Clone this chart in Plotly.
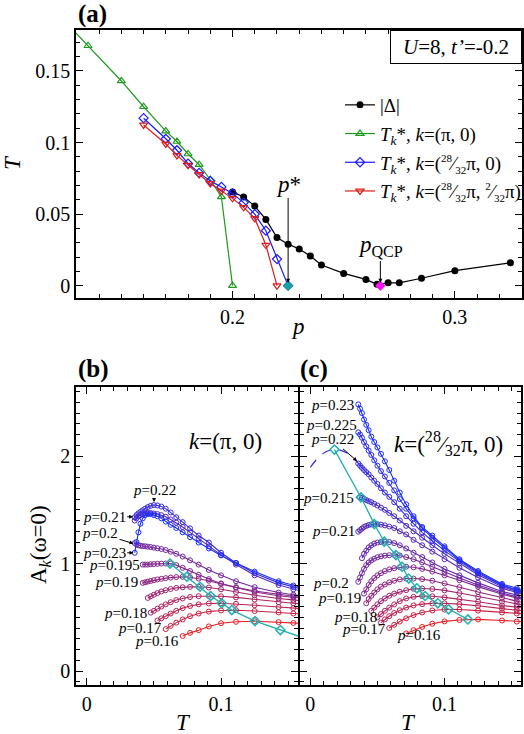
import plotly.graph_objects as go

# ---------------- Panel (a) data ----------------
P_DELTA = [0.2, 0.205, 0.21, 0.215, 0.22, 0.225, 0.23, 0.235, 0.24, 0.25, 0.26, 0.265, 0.27, 0.275, 0.285, 0.3, 0.325]
T_DELTA = [0.0655, 0.062, 0.0556, 0.0463, 0.0337, 0.029, 0.0256, 0.0207, 0.0144, 0.0086, 0.0044, 0.001, 0.002, 0.002, 0.0052, 0.0105, 0.016]
P_K1 = [0.125, 0.135, 0.15, 0.16, 0.17, 0.175, 0.18, 0.185, 0.19, 0.195, 0.2]
T_K1 = [0.184, 0.1676, 0.143, 0.125, 0.108, 0.1007, 0.092, 0.0845, 0.074, 0.062, 0.0]
P_K2 = [0.16, 0.17, 0.175, 0.18, 0.185, 0.19, 0.195, 0.2, 0.205, 0.21, 0.215, 0.22, 0.225]
T_K2 = [0.117, 0.1026, 0.0946, 0.0853, 0.0788, 0.0732, 0.069, 0.0644, 0.058, 0.05, 0.0384, 0.0186, 0.0]
P_K3 = [0.16, 0.17, 0.175, 0.18, 0.185, 0.19, 0.195, 0.2, 0.205, 0.21, 0.215, 0.22]
T_K3 = [0.1123, 0.099, 0.091, 0.0842, 0.0777, 0.0714, 0.0662, 0.061, 0.0547, 0.047, 0.0284, 0.0]
P_STAR = [0.225]
P_QCP = [0.2665]

# ---------------- Panels (b),(c) data ----------------
BETA = [28, 27, 26, 25, 24, 23, 22, 21, 20, 19, 18, 17, 16, 15, 14, 13, 12, 11, 10, 9, 8, 7, 6.5, 6]
T_GRID = [1.0 / b for b in BETA]

# panel (b): k=(pi,0); values start at the first beta listed
B_START = {0.16: 14, 0.17: 17, 0.175: 19, 0.18: 21, 0.185: 22, 0.19: 24, 0.195: 24, 0.2: 28, 0.21: 28, 0.22: 28, 0.23: 28}
B_A = {
    0.16: [0.326, 0.355, 0.38, 0.415, 0.445, 0.458, 0.463, 0.455, 0.447, 0.44],
    0.17: [0.39, 0.42, 0.45, 0.48, 0.51, 0.535, 0.553, 0.563, 0.566, 0.558, 0.545, 0.535, 0.525],
    0.175: [0.47, 0.49, 0.51, 0.535, 0.56, 0.585, 0.605, 0.62, 0.628, 0.63, 0.625, 0.612, 0.595, 0.585, 0.575],
    0.18: [0.543, 0.56, 0.58, 0.6, 0.62, 0.64, 0.66, 0.675, 0.688, 0.696, 0.698, 0.695, 0.685, 0.665, 0.64, 0.63, 0.62],
    0.185: [0.68, 0.695, 0.71, 0.725, 0.74, 0.752, 0.763, 0.773, 0.779, 0.783, 0.784, 0.777, 0.76, 0.735, 0.705, 0.675, 0.66, 0.645],
    0.19: [0.82, 0.825, 0.832, 0.838, 0.845, 0.852, 0.858, 0.864, 0.869, 0.874, 0.877, 0.872, 0.86, 0.84, 0.81, 0.775, 0.735, 0.70, 0.685, 0.67],
    0.195: [0.99, 0.99, 0.99, 0.993, 0.995, 0.997, 0.999, 1.0, 1.0, 0.985, 0.96, 0.93, 0.895, 0.855, 0.815, 0.78, 0.745, 0.71, 0.695, 0.68],
    0.2: [1.19, 1.178, 1.17, 1.165, 1.162, 1.16, 1.157, 1.153, 1.148, 1.142, 1.135, 1.125, 1.11, 1.09, 1.065, 1.03, 0.99, 0.94, 0.89, 0.835, 0.78, 0.73, 0.71, 0.69],
    0.21: [1.40, 1.42, 1.44, 1.45, 1.46, 1.465, 1.47, 1.47, 1.465, 1.46, 1.45, 1.435, 1.41, 1.38, 1.34, 1.29, 1.23, 1.16, 1.08, 0.99, 0.89, 0.80, 0.76, 0.72],
    0.22: [1.43, 1.45, 1.467, 1.48, 1.495, 1.51, 1.525, 1.537, 1.544, 1.54, 1.53, 1.51, 1.475, 1.43, 1.385, 1.327, 1.26, 1.195, 1.10, 1.005, 0.91, 0.82, 0.78, 0.74],
    0.23: [1.10, 1.20, 1.29, 1.37, 1.42, 1.45, 1.46, 1.46, 1.45, 1.44, 1.42, 1.39, 1.36, 1.33, 1.29, 1.245, 1.195, 1.14, 1.075, 1.005, 0.925, 0.835, 0.795, 0.755],
}
B_PEAK_T = [0.062, 0.0745, 0.0844, 0.0923, 0.1005, 0.108, 0.1253, 0.1442, 0.168]
B_PEAK_A = [1.0, 0.877, 0.784, 0.698, 0.63, 0.567, 0.465, 0.381, 0.28]

# panel (c): k=(28/32 pi, 0)
C_START = {0.16: 14, 0.17: 17, 0.175: 19, 0.18: 20, 0.185: 22, 0.19: 24, 0.195: 25, 0.2: 28, 0.205: 26, 0.21: 28, 0.215: 27, 0.22: 28, 0.225: 28, 0.23: 28}
C_A = {
    0.16: [0.35, 0.38, 0.41, 0.44, 0.462, 0.475, 0.48, 0.47, 0.46, 0.455],
    0.17: [0.40, 0.43, 0.46, 0.49, 0.52, 0.545, 0.563, 0.572, 0.572, 0.562, 0.545, 0.535, 0.525],
    0.175: [0.45, 0.48, 0.51, 0.54, 0.565, 0.59, 0.61, 0.622, 0.629, 0.63, 0.622, 0.607, 0.58, 0.565, 0.55],
    0.18: [0.50, 0.53, 0.56, 0.59, 0.62, 0.65, 0.675, 0.69, 0.697, 0.695, 0.685, 0.67, 0.645, 0.61, 0.595, 0.575],
    0.185: [0.56, 0.59, 0.62, 0.65, 0.675, 0.70, 0.72, 0.738, 0.752, 0.765, 0.768, 0.763, 0.75, 0.725, 0.69, 0.645, 0.62, 0.595],
    0.19: [0.63, 0.67, 0.70, 0.73, 0.76, 0.785, 0.805, 0.825, 0.84, 0.852, 0.86, 0.86, 0.855, 0.84, 0.815, 0.78, 0.735, 0.68, 0.65, 0.62],
    0.195: [0.72, 0.76, 0.80, 0.835, 0.865, 0.89, 0.91, 0.93, 0.945, 0.957, 0.966, 0.97, 0.965, 0.95, 0.925, 0.89, 0.845, 0.785, 0.715, 0.68, 0.645],
    0.2: [0.83, 0.87, 0.91, 0.95, 0.985, 1.01, 1.03, 1.045, 1.058, 1.067, 1.073, 1.077, 1.079, 1.075, 1.06, 1.04, 1.01, 0.97, 0.92, 0.865, 0.80, 0.725, 0.69, 0.655],
    0.205: [1.05, 1.09, 1.12, 1.15, 1.17, 1.185, 1.195, 1.2, 1.203, 1.2, 1.19, 1.17, 1.14, 1.10, 1.06, 1.01, 0.95, 0.89, 0.82, 0.74, 0.705, 0.67],
    0.21: [1.296, 1.31, 1.325, 1.34, 1.35, 1.358, 1.364, 1.367, 1.366, 1.362, 1.355, 1.344, 1.33, 1.30, 1.27, 1.22, 1.17, 1.11, 1.04, 0.96, 0.87, 0.77, 0.73, 0.69],
    0.215: [1.616, 1.61, 1.60, 1.59, 1.58, 1.57, 1.555, 1.54, 1.52, 1.50, 1.47, 1.44, 1.40, 1.35, 1.30, 1.24, 1.17, 1.09, 1.0, 0.895, 0.785, 0.74, 0.70],
    0.22: [1.93, 1.91, 1.89, 1.87, 1.85, 1.83, 1.80, 1.77, 1.74, 1.70, 1.66, 1.62, 1.57, 1.51, 1.44, 1.37, 1.29, 1.21, 1.12, 1.02, 0.91, 0.795, 0.75, 0.71],
    0.225: [2.22, 2.2, 2.17, 2.13, 2.09, 2.05, 2.01, 1.96, 1.91, 1.86, 1.81, 1.75, 1.68, 1.60, 1.51, 1.42, 1.33, 1.24, 1.145, 1.03, 0.92, 0.80, 0.755, 0.715],
    0.23: [2.48, 2.44, 2.40, 2.34, 2.29, 2.24, 2.18, 2.13, 2.08, 2.02, 1.95, 1.87, 1.77, 1.66, 1.55, 1.44, 1.34, 1.26, 1.16, 1.04, 0.93, 0.81, 0.77, 0.73],
}
C_PEAK_T = [0.018, 0.0377, 0.0477, 0.0551, 0.0638, 0.0683, 0.0733, 0.0794, 0.0856, 0.095, 0.103, 0.1174]
C_PEAK_A = [2.06, 1.616, 1.367, 1.203, 1.079, 0.97, 0.86, 0.769, 0.698, 0.63, 0.574, 0.48]
C_FIT_T = [0.0, 0.009, 0.018, 0.027, 0.036]
C_FIT_A = [1.895, 2.02, 2.062, 2.03, 1.93]

FONT = "Liberation Serif, Times New Roman, Times, DejaVu Serif, serif"
W, H = 524, 734


def col(p):
    t = (p - 0.16) / 0.07
    r = round(235 + (25 - 235) * t)
    g = round(30 + (45 - 30) * t)
    b = round(35 + (250 - 35) * t)
    return f"rgb({r},{g},{b})"


def px(x):
    return x / W


def py(y):
    return 1 - y / H


fig = go.Figure()


def frac(n, d):
    return ("<sup><span style='font-size:11px'>" + n + "</span></sup>⁄<sub><span style='font-size:11px'>"
            + d + "</span></sub>π")


# panel (a)
fig.add_trace(go.Scatter(x=P_DELTA, y=T_DELTA, mode="lines+markers", name="|Δ|", legendgroup="g1",
                         line=dict(color="black", width=1.2), marker=dict(symbol="circle", size=7, color="black"),
                         xaxis="x", yaxis="y"))
fig.add_trace(go.Scatter(x=P_K1, y=T_K1, mode="lines+markers", name="<i>T<sub>k</sub></i>*, <i>k</i>=(π, 0)",
                         legendgroup="g2", line=dict(color="#1f9a1f", width=1.2),
                         marker=dict(symbol="triangle-up-open", size=7, color="#1f9a1f", line=dict(width=1.2)),
                         xaxis="x", yaxis="y"))
fig.add_trace(go.Scatter(x=P_K2, y=T_K2, mode="lines+markers", legendgroup="g3",
                         name="<i>T<sub>k</sub></i>*, <i>k</i>=(" + frac("28", "32") + ", 0)",
                         line=dict(color="#1a1aff", width=1.2),
                         marker=dict(symbol="diamond-open", size=7, color="#1a1aff", line=dict(width=1.2)),
                         xaxis="x", yaxis="y"))
fig.add_trace(go.Scatter(x=P_K3, y=T_K3, mode="lines+markers", legendgroup="g4",
                         name="<i>T<sub>k</sub></i>*, <i>k</i>=(" + frac("28", "32") + ", " + frac("2", "32") + ")",
                         line=dict(color="#d91e1e", width=1.2),
                         marker=dict(symbol="triangle-down-open", size=7, color="#d91e1e", line=dict(width=1.2)),
                         xaxis="x", yaxis="y"))
fig.add_trace(go.Scatter(x=P_STAR, y=[0], mode="markers", showlegend=False,
                         marker=dict(symbol="diamond", size=8, color="#18a0a0"), xaxis="x", yaxis="y"))
fig.add_trace(go.Scatter(x=P_QCP, y=[0], mode="markers", showlegend=False,
                         marker=dict(symbol="diamond", size=8, color="#ff10ff"), xaxis="x", yaxis="y"))


def add_curves(starts, vals, xa, ya):
    for p in sorted(vals):
        i0 = BETA.index(starts[p])
        ts = T_GRID[i0:i0 + len(vals[p])]
        fig.add_trace(go.Scatter(x=ts, y=vals[p], mode="lines+markers", showlegend=False,
                                 line=dict(color=col(p), width=1.1),
                                 marker=dict(symbol="circle-open", size=5, color=col(p), line=dict(width=1)),
                                 xaxis=xa, yaxis=ya))


add_curves(B_START, B_A, "x2", "y2")
fig.add_trace(go.Scatter(x=B_PEAK_T, y=B_PEAK_A, mode="lines+markers", showlegend=False,
                         line=dict(color="#20b0b0", width=1.3),
                         marker=dict(symbol="diamond-open", size=7, color="#20b0b0", line=dict(width=1.5)),
                         xaxis="x2", yaxis="y2"))
add_curves(C_START, C_A, "x3", "y3")
fig.add_trace(go.Scatter(x=C_FIT_T, y=C_FIT_A, mode="lines", showlegend=False, line_shape="spline",
                         line=dict(color=col(0.22), width=1.2, dash="dash"), xaxis="x3", yaxis="y3"))
fig.add_trace(go.Scatter(x=C_PEAK_T, y=C_PEAK_A, mode="lines+markers", showlegend=False,
                         line=dict(color="#20b0b0", width=1.3),
                         marker=dict(symbol="diamond-open", size=7, color="#20b0b0", line=dict(width=1.5)),
                         xaxis="x3", yaxis="y3"))

tickfont = dict(family=FONT, size=20, color="black")


def axis(dom, rng, tv, tt, mdt, anchor, labels=True):
    return dict(domain=dom, range=rng, tickvals=tv, ticktext=tt, showticklabels=labels,
                ticks="inside", ticklen=7, tickwidth=1, tickcolor="black",
                minor=dict(dtick=mdt, ticks="inside", ticklen=4, tickwidth=1, tickcolor="black"),
                showline=True, linecolor="black", linewidth=1.5, mirror="allticks",
                showgrid=False, zeroline=False, tickfont=tickfont, anchor=anchor, automargin=False)


fig.update_layout(
    template="none",
    width=W, height=H, margin=dict(l=0, r=0, t=0, b=0, pad=0, autoexpand=False),
    paper_bgcolor="white", plot_bgcolor="white",
    font=dict(family=FONT, size=19, color="black"),
    xaxis=axis([px(76), px(522)], [0.1296, 0.3302], [0.2, 0.3], ["0.2", "0.3"], 0.01, "y"),
    yaxis=axis([py(298), py(30)], [-0.0086, 0.1786], [0, 0.05, 0.1, 0.15], ["0", "0.05", "0.1", "0.15"], 0.01, "x"),
    xaxis2=axis([px(76), px(298)], [-0.008, 0.1573], [0, 0.1], ["0", "0.1"], 0.01, "y2"),
    yaxis2=axis([py(685), py(387)], [-0.13, 2.642], [0, 1, 2], ["0", "1", "2"], 0.1, "x2"),
    xaxis3=axis([px(300), px(521)], [-0.0077, 0.157], [0, 0.1], ["0", "0.1"], 0.01, "y3"),
    yaxis3=axis([py(685), py(387)], [-0.13, 2.642], [0, 1, 2], ["0", "1", "2"], 0.1, "x3", labels=False),
    legend=dict(x=px(340), y=py(86), xanchor="left", yanchor="top", bgcolor="rgba(0,0,0,0)",
                font=dict(family=FONT, size=19), itemwidth=30, tracegroupgap=1),
    showlegend=True,
)

ann = []


def txt(x, y, s, size=19, xref="paper", yref="paper", **kw):
    d = dict(x=x, y=y, text=s, xref=xref, yref=yref, showarrow=False, xanchor="center", yanchor="middle",
             font=dict(family=FONT, size=size, color="black"))
    d.update(kw)
    ann.append(d)


# panel labels and titles
txt(px(76), py(14), "<b>(a)</b>", 25, xanchor="left")
txt(px(76), py(369), "<b>(b)</b>", 25, xanchor="left")
txt(px(298), py(369), "<b>(c)</b>", 25, xanchor="left")
txt(px(298), py(326), "<i>p</i>", 23)
txt(px(12), py(163), "<i>T</i>", 23, textangle=-90)
txt(px(183), py(722), "<i>T</i>", 23)
txt(px(408), py(722), "<i>T</i>", 23)
txt(px(40), py(545), "A<sub><i>k</i></sub>(ω=0)", 23, textangle=-90)
ann.append(dict(x=px(522), y=py(30), xref="paper", yref="paper", xanchor="right", yanchor="top",
                text="<i>U</i>=8, <i>t’</i>=-0.2", showarrow=False, bordercolor="black", borderwidth=1,
                borderpad=4, bgcolor="white", font=dict(family=FONT, size=21, color="black"),
                width=122, height=24))
txt(0.103, 2.133, "<i>k</i>=(π, 0)", 23, xref="x2", yref="y2")
txt(0.1033, 2.12, "<i>k</i>=(<sup>28</sup>⁄<sub>32</sub>π, 0)", 23, xref="x3", yref="y3")


def arr(x, y, ax, ay, s, xr, yr, size=15):
    ann.append(dict(x=x, y=y, ax=ax, ay=ay, xref=xr, yref=yr, axref=xr, ayref=yr, text=s,
                    showarrow=True, arrowhead=2, arrowsize=0.8, arrowwidth=1, arrowcolor="black",
                    font=dict(family=FONT, size=size, color="black")))


arr(0.225, 0.002, 0.225, 0.071, "<i>p</i>*", "x", "y", 23)
arr(0.2665, 0.002, 0.2665, 0.028, "<i>p</i><sub>QCP</sub>", "x", "y", 23)

arr(0.0501, 1.572, 0.0501, 1.684, "<i>p</i>=0.22", "x2", "y2")
arr(0.0345, 1.435, 0.013, 1.435, "<i>p</i>=0.21", "x2", "y2")
arr(0.0348, 1.186, 0.0099, 1.28, "<i>p</i>=0.2", "x2", "y2")
arr(0.0348, 1.10, 0.013, 1.10, "<i>p</i>=0.23", "x2", "y2")
txt(0.0204, 0.986, "<i>p</i>=0.195", 15, xref="x2", yref="y2")
txt(0.0223, 0.831, "<i>p</i>=0.19", 15, xref="x2", yref="y2")
txt(0.0285, 0.542, "<i>p</i>=0.18", 15, xref="x2", yref="y2")
txt(0.0397, 0.397, "<i>p</i>=0.17", 15, xref="x2", yref="y2")
txt(0.0521, 0.282, "<i>p</i>=0.16", 15, xref="x2", yref="y2")

txt(0.0162, 2.474, "<i>p</i>=0.23", 15, xref="x3", yref="y3")
txt(0.016, 2.288, "<i>p</i>=0.225", 15, xref="x3", yref="y3")
arr(0.0348, 1.953, 0.0162, 2.155, "<i>p</i>=0.22", "x3", "y3")
txt(0.0136, 1.607, "<i>p</i>=0.215", 15, xref="x3", yref="y3")
txt(0.0169, 1.305, "<i>p</i>=0.21", 15, xref="x3", yref="y3")
txt(0.0156, 0.821, "<i>p</i>=0.2", 15, xref="x3", yref="y3")
txt(0.0221, 0.676, "<i>p</i>=0.19", 15, xref="x3", yref="y3")
txt(0.0333, 0.505, "<i>p</i>=0.18", 15, xref="x3", yref="y3")
txt(0.0398, 0.388, "<i>p</i>=0.17", 15, xref="x3", yref="y3")
txt(0.0813, 0.335, "<i>p</i>=0.16", 15, xref="x3", yref="y3")

fig.update_layout(annotations=ann)
fig.write_html("out.html", config={"displayModeBar": False},
               post_script="document.body.style.margin='0';document.body.style.padding='0';")
